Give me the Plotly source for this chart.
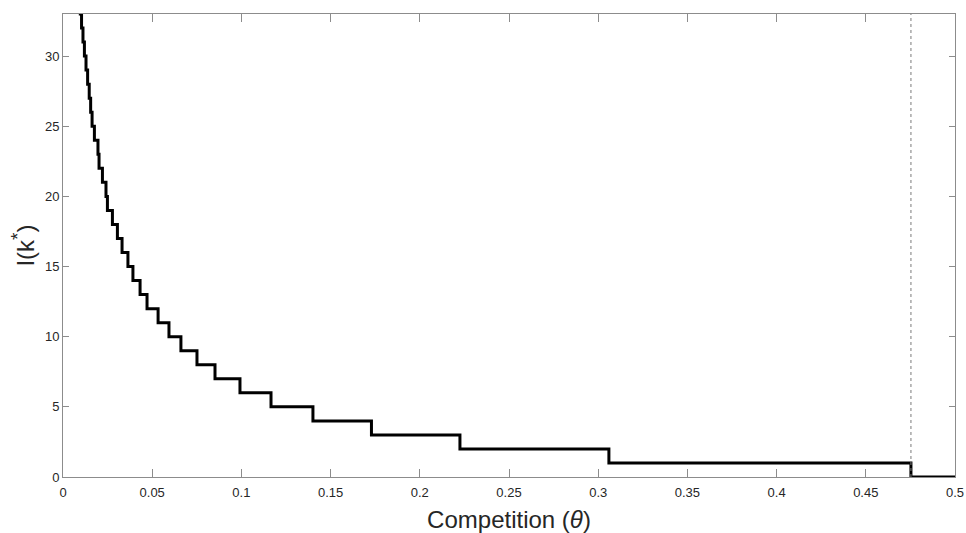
import plotly.graph_objects as go

# Step levels of I(k*) and the theta values where each level drops to the next
levels = list(range(35, -1, -1))  # 35 ... 0
drops = [0.0090, 0.0097, 0.0104, 0.0112, 0.0120, 0.0129, 0.0138, 0.0147, 0.0155,
         0.0163, 0.0176, 0.0196, 0.0202, 0.0221, 0.0241, 0.0249, 0.0277, 0.0305,
         0.0331, 0.0364, 0.0392, 0.0432, 0.0471, 0.0533, 0.0594, 0.0661, 0.0751,
         0.0852, 0.0992, 0.1166, 0.1401, 0.1729, 0.2225, 0.3060, 0.4753]
theta_start = 0.0085
theta_end = 0.5
threshold = 0.4753

x_ticks = [0, 0.05, 0.1, 0.15, 0.2, 0.25, 0.3, 0.35, 0.4, 0.45, 0.5]
x_ticklabels = ["0", "0.05", "0.1", "0.15", "0.2", "0.25", "0.3", "0.35", "0.4", "0.45", "0.5"]
y_ticks = [0, 5, 10, 15, 20, 25, 30]

xs = [theta_start] + drops + [theta_end]
ys = levels + [0]

fig = go.Figure()
fig.add_trace(go.Scatter(x=xs, y=ys, mode="lines", line=dict(color="black", width=3, shape="hv"),
                         showlegend=False, hoverinfo="skip"))

fig.add_shape(type="line", x0=threshold, x1=threshold, y0=0, y1=1, xref="x", yref="y domain",
              line=dict(color="#7a7a7a", width=1, dash="dot"))

font_family = "Liberation Sans, Arial, sans-serif"
axis_common = dict(showgrid=False, zeroline=False, showline=True, linecolor="#8c8c8c", linewidth=1,
                   mirror="ticks", ticks="inside", tickcolor="#8c8c8c", automargin=False,
                   tickfont=dict(family=font_family, size=13, color="#262626"))

fig.update_xaxes(range=[0, 0.5], tickvals=x_ticks, ticktext=x_ticklabels, ticklen=8,
                 ticklabelstandoff=3,
                 title=dict(text="Competition (<i>θ</i>)", standoff=12,
                            font=dict(family=font_family, size=24, color="#262626")),
                 **axis_common)
fig.update_yaxes(range=[0, 33], tickvals=y_ticks, ticklen=6,
                 title=dict(text="I(k<sup><span style='font-size:19px'>*</span></sup>)", standoff=3,
                            font=dict(family=font_family, size=24, color="#262626")),
                 **axis_common)

fig.update_layout(width=966, height=533, margin=dict(l=63, r=11, t=14, b=56),
                  plot_bgcolor="white", paper_bgcolor="white", hovermode=False)

fig.write_html("out.html", config={"displayModeBar": False, "staticPlot": True},
               post_script="document.body.style.margin='0';document.body.style.overflow='hidden';")
